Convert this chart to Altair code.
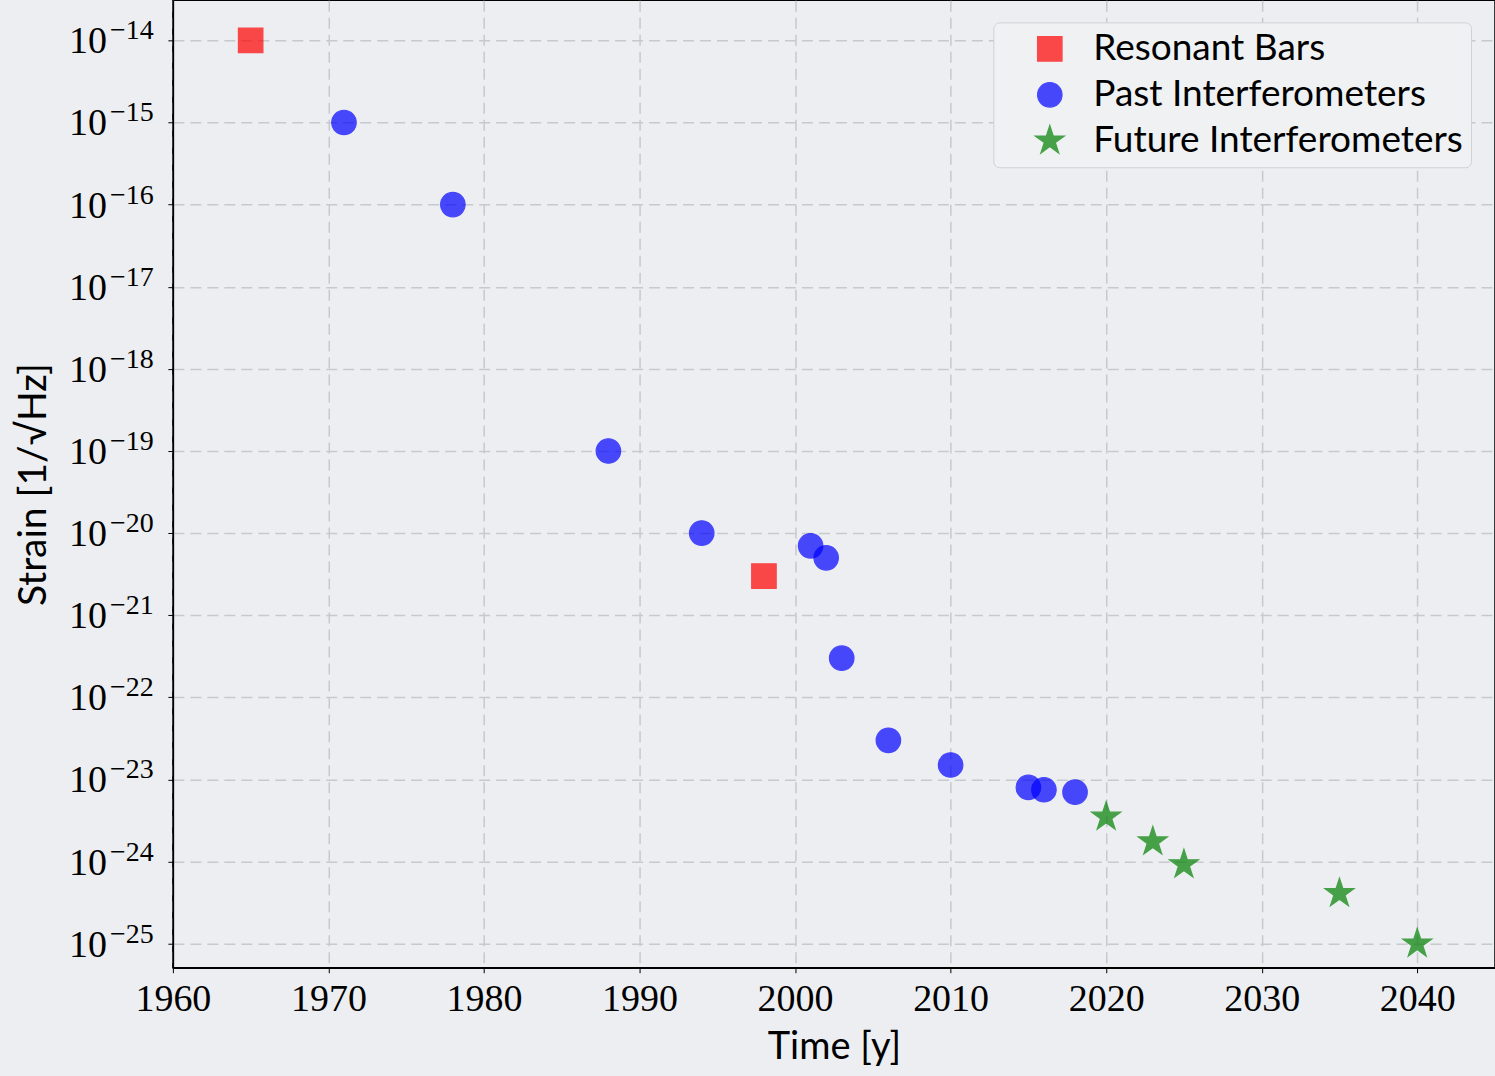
import math
import altair as alt
import pandas as pd

# Detector sensitivity over time (strain, 1/sqrt(Hz))
bars_year = [1965, 1998]
bars_strain = [1e-14, 3e-21]

past_year = [1971, 1978, 1988, 1994, 2001, 2002, 2003, 2006, 2010, 2015, 2016, 2018]
past_strain = [1e-15, 1e-16, 1e-19, 1e-20, 7e-21, 5e-21, 3e-22, 3e-23, 1.5e-23, 8e-24, 7.5e-24, 7e-24]

future_year = [2020, 2023, 2025, 2035, 2040]
future_strain = [3.5e-24, 1.75e-24, 9.2e-25, 4.1e-25, 1e-25]

groups = ["Resonant Bars", "Past Interferometers", "Future Interferometers"]
group_colors = ["#ff0000", "#0000ff", "#008000"]

x_ticks = [1960, 1970, 1980, 1990, 2000, 2010, 2020, 2030, 2040]
y_exponents = list(range(-14, -26, -1))


def star_path(outer=1.25, inner_ratio=0.382):
    # five-pointed star, slightly larger than the unit box so it matches the other markers
    pts = []
    for k in range(10):
        r = outer if k % 2 == 0 else outer * inner_ratio
        a = math.radians(-90 + 36 * k)
        pts.append(f"{r * math.cos(a):.4f},{r * math.sin(a):.4f}")
    return "M" + "L".join(pts) + "Z"


group_shapes = ["square", "circle", star_path()]

rows = []
for yr, s in zip(bars_year, bars_strain):
    rows.append({"year": yr, "strain": s, "kind": groups[0]})
for yr, s in zip(past_year, past_strain):
    rows.append({"year": yr, "strain": s, "kind": groups[1]})
for yr, s in zip(future_year, future_strain):
    rows.append({"year": yr, "strain": s, "kind": groups[2]})
df = pd.DataFrame(rows)

ticks_df = pd.DataFrame({
    "strain": [10.0 ** e for e in y_exponents],
    "base": ["10"] * len(y_exponents),
    "exp": ["\u2212" + str(-e) for e in y_exponents],
})

x_scale = alt.Scale(domain=[1960, 2045], nice=False, zero=False)
y_scale = alt.Scale(type="log", domain=[10 ** -25.292, 10 ** -13.513], nice=False)

legend_opts = dict(title=None, orient="none", legendX=821, legendY=22)
color_scale = alt.Scale(domain=groups, range=group_colors)

points = alt.Chart(df).mark_point(filled=True, opacity=0.7, strokeWidth=1.2, size=600).encode(
    x=alt.X("year:Q", scale=x_scale,
            axis=alt.Axis(values=x_ticks, format="d", title="Time [y]", orient="bottom",
                          labelFont="Liberation Serif", labelFontSize=38, labelFlush=False,
                          labelPadding=8, titlePadding=10)),
    y=alt.Y("strain:Q", scale=y_scale,
            axis=alt.Axis(values=[10.0 ** e for e in y_exponents], labels=False, orient="left",
                          title="Strain [1/\u221aHz]", titlePadding=114, titleFontSize=39)),
    color=alt.Color("kind:N", scale=color_scale, sort=groups, legend=alt.Legend(**legend_opts)),
    stroke=alt.Stroke("kind:N", scale=color_scale, sort=groups, legend=alt.Legend(**legend_opts)),
    shape=alt.Shape("kind:N", scale=alt.Scale(domain=groups, range=group_shapes),
                    sort=groups, legend=alt.Legend(**legend_opts)),
)

base_labels = alt.Chart(ticks_df).mark_text(
    align="right", baseline="middle", font="Liberation Serif", fontSize=38, color="black", dy=2
).encode(x=alt.value(-66), y=alt.Y("strain:Q", scale=y_scale), text="base:N")

exp_labels = alt.Chart(ticks_df).mark_text(
    align="left", baseline="middle", font="Liberation Serif", fontSize=28, color="black", dy=-9
).encode(x=alt.value(-63), y=alt.Y("strain:Q", scale=y_scale), text="exp:N")

chart = alt.layer(points, base_labels, exp_labels).properties(
    width=1323, height=968,
    autosize=alt.AutoSizeParams(type="none"),
    padding={"left": 173, "top": 0, "right": 0, "bottom": 108},
    background="#eceef1",
).configure_view(
    stroke="black", strokeWidth=1.5, fill="#eceef1"
).configure_axis(
    grid=True, gridColor="#c6c9cd", gridDash=[11, 6], gridWidth=1.5,
    domainColor="black", domainWidth=1.5, tickColor="black", tickSize=5, tickWidth=1,
    labelColor="black", titleColor="black",
    titleFont="Lato", titleFontSize=38, titleFontWeight="normal",
).configure_legend(
    labelFont="Lato", labelFontSize=37, labelColor="black", labelLimit=0,
    fillColor="#eff1f3", strokeColor="#cfd2d5", cornerRadius=6,
    padding=8, rowPadding=8, symbolOffset=30, symbolSize=600, labelOffset=25,
    symbolStrokeWidth=1.2, symbolOpacity=0.7,
)

chart.save("out.html", embed_options={"renderer": "svg", "actions": False})
